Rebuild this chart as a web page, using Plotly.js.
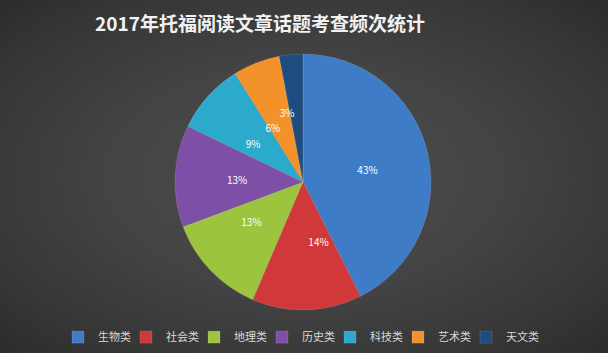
<!DOCTYPE html>
<html><head><meta charset="utf-8">
<script src="https://cdn.plot.ly/plotly-3.0.1.min.js"></script>
<style>html,body{margin:0;padding:0;}#chart{width:608px;height:353px;background:radial-gradient(ellipse at 50% 50%, #4d4d4d 0%, #444444 45%, #363636 80%, #2c2c2c 100%);}
.legend .scrollbox{clip-path:none !important;}
path.textline{stroke-opacity:0 !important;}</style>
</head><body><div id="chart"></div>
<script>
const categories = ['生物类','社会类','地理类','历史类','科技类','艺术类','天文类'];
const values = [43,14,13,13,9,6,3];
const colors = ['#3F7CC8','#D0383A','#9DC43F','#7E4FA6','#2BAACB','#F3922B','#1E4C7E'];

const cx = 303, cy = 171, R = 128, r = 52;
const pie = {
  type:'pie', labels:categories, values:values, sort:false, direction:'clockwise', rotation:0,
  marker:{colors:colors, line:{color:'rgba(255,255,255,0.25)', width:0.5}},
  textinfo:'none', hoverinfo:'none',
  domain:{x:[(cx-R)/608,(cx+R)/608], y:[(cy-R)/353,(cy+R)/353]}
};
const labelsPie = {
  type:'pie', labels:categories, values:values, sort:false, direction:'clockwise', rotation:0,
  marker:{colors:categories.map(()=>'rgba(0,0,0,0)'), line:{width:0}},
  texttemplate:'%{value}%', textposition:'outside', showlegend:false, hoverinfo:'none',
  outsidetextfont:{family:'Noto Sans CJK SC, sans-serif', size:10, color:'#ffffff'},
  domain:{x:[(cx-r)/608,(cx+r)/608], y:[(cy-r)/353,(cy+r)/353]}
};
const layout = {
  width:608, height:353, margin:{l:0,r:0,t:0,b:0},
  paper_bgcolor:'rgba(0,0,0,0)', plot_bgcolor:'rgba(0,0,0,0)',
  font:{family:'Noto Sans CJK SC, sans-serif', color:'#d9d9d9'},
  title:{text:'<b>2017年托福阅读文章话题考查频次统计</b>', x:260/608, xanchor:'center', y:0.93, yanchor:'middle',
    font:{family:'Noto Sans CJK SC, sans-serif', size:19, color:'#f2f2f2'}},
  showlegend:true,
  legend:{orientation:'h', x:0.5-8/608, xanchor:'center', y:0.045, yanchor:'middle', traceorder:'normal',
    font:{size:11, color:'#d9d9d9'}, entrywidth:23, entrywidthmode:'pixels', itemwidth:30, bgcolor:'rgba(0,0,0,0)'}
};
Plotly.newPlot('chart',[pie, labelsPie],layout,{displayModeBar:false, staticPlot:true});
</script></body></html>
